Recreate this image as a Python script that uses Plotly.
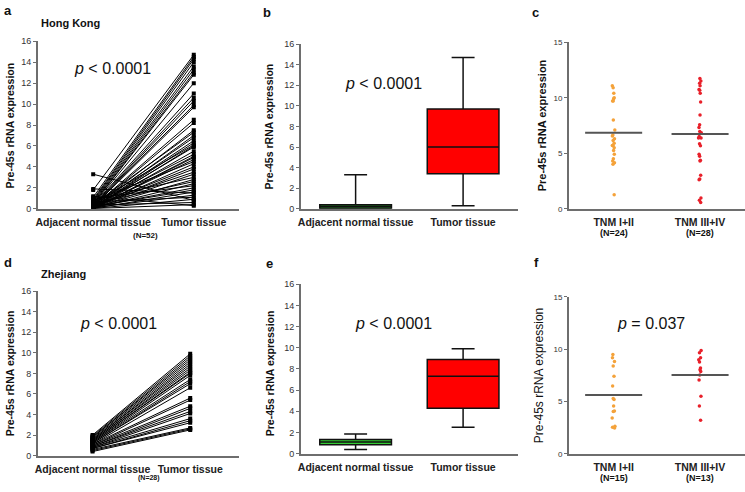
import plotly.graph_objects as go

# ---------------- data ----------------
cats_pair = ["Adjacent normal tissue", "Tumor tissue"]
cats_tnm = ["TNM I+II", "TNM III+IV"]

hk_adjacent = [3.3, 1.9, 1.8, 1.2, 1.1, 1.0, 0.9, 0.85, 0.8, 0.75,
               0.7, 0.65, 0.6, 0.55, 0.5, 0.5, 0.45, 0.4, 0.4, 0.35,
               0.35, 0.3, 0.3, 0.3, 0.25, 0.25, 0.25, 0.2, 0.2, 0.2,
               0.2, 0.15, 0.15, 0.15, 0.15, 0.1, 0.1, 0.1, 0.1, 0.1,
               0.08, 0.08, 0.06, 0.06, 0.05, 0.05, 0.05, 0.04, 0.04, 0.03,
               0.03, 0.02]
hk_tumor = [0.8, 1.5, 14.7, 0.3, 14.5, 2.2, 14.3, 3.0, 14.0, 4.5,
            13.6, 1.1, 13.3, 6.1, 13.0, 2.6, 12.8, 7.3, 12.0, 0.6,
            11.0, 5.2, 10.6, 3.5, 10.3, 6.8, 9.9, 1.8, 9.7, 4.0,
            8.5, 2.0, 8.2, 5.9, 7.5, 1.3, 7.0, 4.7, 6.5, 2.8,
            6.3, 3.8, 5.5, 2.4, 4.9, 3.3, 4.3, 1.6, 6.0, 0.9,
            5.0, 0.4]

zj_adjacent = [2.0, 1.9, 1.8, 1.8, 1.7, 1.6, 1.6, 1.5, 1.5, 1.4,
               1.4, 1.3, 1.3, 1.2, 1.2, 1.1, 1.1, 1.0, 1.0, 0.9,
               0.9, 0.8, 0.8, 0.7, 0.7, 0.6, 0.5, 0.4]
zj_tumor = [9.9, 9.7, 9.5, 9.3, 9.1, 8.9, 8.7, 8.5, 8.3, 8.1,
            8.0, 7.8, 7.4, 7.2, 7.0, 6.6, 5.6, 5.4, 4.8, 4.6,
            4.3, 4.1, 3.6, 3.4, 3.2, 2.7, 2.6, 2.5]

# box statistics: [adjacent, tumor]
hk_q1 = [0.0, 3.4]
hk_median = [0.2, 6.0]
hk_q3 = [0.4, 9.7]
hk_low = [0.0, 0.3]
hk_high = [3.3, 14.7]

zj_q1 = [0.85, 4.3]
zj_median = [1.1, 7.3]
zj_q3 = [1.35, 8.9]
zj_low = [0.4, 2.5]
zj_high = [1.85, 9.9]

hk_tnm12 = [11.09, 10.9, 10.4, 10.0, 9.9, 9.7, 9.7, 8.0, 7.1, 6.65,
            6.55, 6.3, 6.15, 5.9, 5.7, 5.7, 5.5, 5.25, 4.9, 4.5,
            4.3, 4.15, 4.0, 1.26]
hk_tnm34 = [11.74, 11.5, 11.3, 11.09, 10.74, 10.68, 10.4, 9.62, 8.44, 7.56,
            7.33, 6.97, 6.85, 6.5, 6.38, 6.38, 5.85, 5.68, 4.91, 4.74,
            4.38, 4.3, 3.03, 2.68, 2.62, 0.97, 0.76, 0.56]
hk_tnm_center = [6.85, 6.74]
hk_tnm_n = ["(N=24)", "(N=28)"]

zj_tnm12 = [9.5, 9.19, 8.81, 8.4, 7.4, 6.47, 5.28, 5.19, 4.56, 4.09,
            4.03, 3.41, 2.62, 2.53, 2.47]
zj_tnm34 = [9.87, 9.65, 9.19, 9.0, 8.78, 8.19, 8.03, 7.87, 7.53, 7.06,
            5.5, 4.56, 3.19]
zj_tnm_center = [5.62, 7.53]
zj_tnm_n = ["(N=15)", "(N=13)"]

# ---------------- styling ----------------
W, H = 745, 492
FONT = "Liberation Sans, Arial, sans-serif"
AXC = "#6e6e6e"
ORANGE = "#f4a23a"
RED = "#e8202a"
GREEN = "#33cc33"


def px_x(p):
    return p / W


def px_y(p):
    return 1 - p / H


fig = go.Figure()

panels = {
    # name: (x0px, x1px, y_top_px, y_bottom_px, xrange, yrange)
    "a": (35, 237, 37, 208, [-0.55, 1.45], [0, 16]),
    "b": (299, 517, 40, 208, [-0.51, 1.51], [0, 16]),
    "c": (568, 745, 38, 208, [-0.52, 1.52], [0, 15]),
    "d": (35, 237, 292, 460, [-0.56, 1.5], [0, 16]),
    "e": (299, 517, 285, 458, [-0.51, 1.51], [0, 16]),
    "f": (568, 745, 298, 458, [-0.52, 1.52], [0, 15]),
}
axis_ids = {"a": "", "b": "2", "c": "3", "d": "4", "e": "5", "f": "6"}

layout = {}
for name, (x0, x1, yt, yb, xr, yr) in panels.items():
    i = axis_ids[name]
    labels = cats_tnm if name in "cf" else cats_pair
    layout["xaxis" + i] = dict(
        domain=[px_x(x0), px_x(x1)], range=xr, anchor="y" + i,
        showgrid=False, zeroline=False, showline=True, linecolor=AXC, linewidth=1.5,
        ticks="", tickvals=[0, 1],
        ticktext=["<b>" + s + "</b>" for s in labels],
        tickfont=dict(family=FONT, size=10.5, color="#222"),
        ticklabelstandoff=3, fixedrange=True,
    )
    dt = 5 if name in "cf" else 2
    layout["yaxis" + i] = dict(
        domain=[px_y(yb), px_y(yt)], range=yr, anchor="x" + i,
        showgrid=False, zeroline=False, showline=True, linecolor=AXC, linewidth=1.5,
        ticks="outside", ticklen=3, tickcolor=AXC, tick0=0, dtick=dt,
        tickfont=dict(family=FONT, size=(8 if name in "cf" else 9), color="#333"),
        fixedrange=True,
    )

# ---- paired line panels (a, d) ----
def paired(adj, tum, axis_i):
    xs, ys = [], []
    for a, t in zip(adj, tum):
        xs += [0, 1, None]
        ys += [a, t, None]
    fig.add_trace(go.Scatter(
        x=xs, y=ys, mode="lines+markers",
        line=dict(color="black", width=1),
        marker=dict(symbol="square", size=4, color="black"),
        xaxis="x" + axis_i, yaxis="y" + axis_i, showlegend=False,
        hoverinfo="skip"))

paired(hk_adjacent, hk_tumor, "")
paired(zj_adjacent, zj_tumor, "4")

# ---- box panels (b, e) ----
def boxes(q1, med, q3, lo, hi, axis_i, adj_color):
    colors = [adj_color, "#ff0000"]
    for k in range(2):
        fig.add_trace(go.Box(
            x=[k], q1=[q1[k]], median=[med[k]], q3=[q3[k]],
            lowerfence=[lo[k]], upperfence=[hi[k]],
            width=0.667, whiskerwidth=0.32,
            fillcolor=colors[k], line=dict(color="#111", width=1.5),
            xaxis="x" + axis_i, yaxis="y" + axis_i, showlegend=False,
            hoverinfo="skip"))

boxes(hk_q1, hk_median, hk_q3, hk_low, hk_high, "2", "#1f6b1f")
boxes(zj_q1, zj_median, zj_q3, zj_low, zj_high, "5", GREEN)

# ---- strip panels (c, f) ----
def strips(g1, g2, centers, axis_i):
    for k, (vals, col) in enumerate([(g1, ORANGE), (g2, RED)]):
        fig.add_trace(go.Box(
            y=vals, x0=k, boxpoints="all", jitter=0.35, pointpos=0,
            width=0.12, fillcolor="rgba(0,0,0,0)",
            line=dict(color="rgba(0,0,0,0)", width=0),
            marker=dict(color=col, size=3.5),
            xaxis="x" + axis_i, yaxis="y" + axis_i, showlegend=False,
            hoverinfo="skip"))
        fig.add_trace(go.Scatter(
            x=[k - 0.33, k + 0.33], y=[centers[k], centers[k]], mode="lines",
            line=dict(color="#555", width=2),
            xaxis="x" + axis_i, yaxis="y" + axis_i, showlegend=False,
            hoverinfo="skip"))

strips(hk_tnm12, hk_tnm34, hk_tnm_center, "3")
strips(zj_tnm12, zj_tnm34, zj_tnm_center, "6")

# ---------------- annotations ----------------
ann = []


def text(x, y, s, size, bold=False, angle=0, color="#111", family=FONT,
         xanchor="center"):
    if bold:
        s = "<b>" + s + "</b>"
    ann.append(dict(x=px_x(x), y=px_y(y), xref="paper", yref="paper", text=s,
                    showarrow=False, textangle=angle, xanchor=xanchor, yanchor="middle",
                    font=dict(family=family, size=size, color=color)))

# panel letters
for s, x, y in [("a", 5, 6), ("b", 265, 8), ("c", 535, 8),
                ("d", 5, 263), ("e", 268, 264), ("f", 536, 263)]:
    text(x, y, s, 13, bold=True)

text(36, 18, "Hong Kong", 11, bold=True, xanchor="left")
text(36, 275, "Zhejiang", 11, bold=True, xanchor="left")

# p values
text(110, 65, "<i>p</i> < 0.0001", 16)
text(382, 80, "<i>p</i> < 0.0001", 16)
text(116, 325, "<i>p</i> < 0.0001", 16)
text(392, 325, "<i>p</i> < 0.0001", 16)
text(651, 325, "<i>p</i> = 0.037", 16)

# y-axis titles
ytitle = "Pre-45s rRNA expression"
text(7, 123, ytitle, 10.5, bold=True, angle=-90)
text(268, 124, ytitle, 10.5, bold=True, angle=-90)
text(541, 123, ytitle, 11, bold=True, angle=-90)
text(7, 376, ytitle, 10.5, bold=True, angle=-90)
text(268, 376, ytitle, 10.5, bold=True, angle=-90)
text(538, 378, ytitle, 12, angle=-90)

# N labels
text(143, 235, "(N=52)", 8, bold=True)
text(147, 483, "(N=28)", 7, bold=True)
text(613, 233, hk_tnm_n[0], 9, bold=True)
text(700, 233, hk_tnm_n[1], 9, bold=True)
text(613, 483, zj_tnm_n[0], 9, bold=True)
text(700, 483, zj_tnm_n[1], 9, bold=True)

fig.update_layout(
    width=W, height=H, margin=dict(l=0, r=0, t=0, b=0),
    paper_bgcolor="white", plot_bgcolor="white",
    annotations=ann, showlegend=False, boxgap=0, boxgroupgap=0,
    **layout)

fig.write_html("out.html", config={"displayModeBar": False},
               post_script="document.body.style.margin='0';document.body.style.overflow='hidden';")
